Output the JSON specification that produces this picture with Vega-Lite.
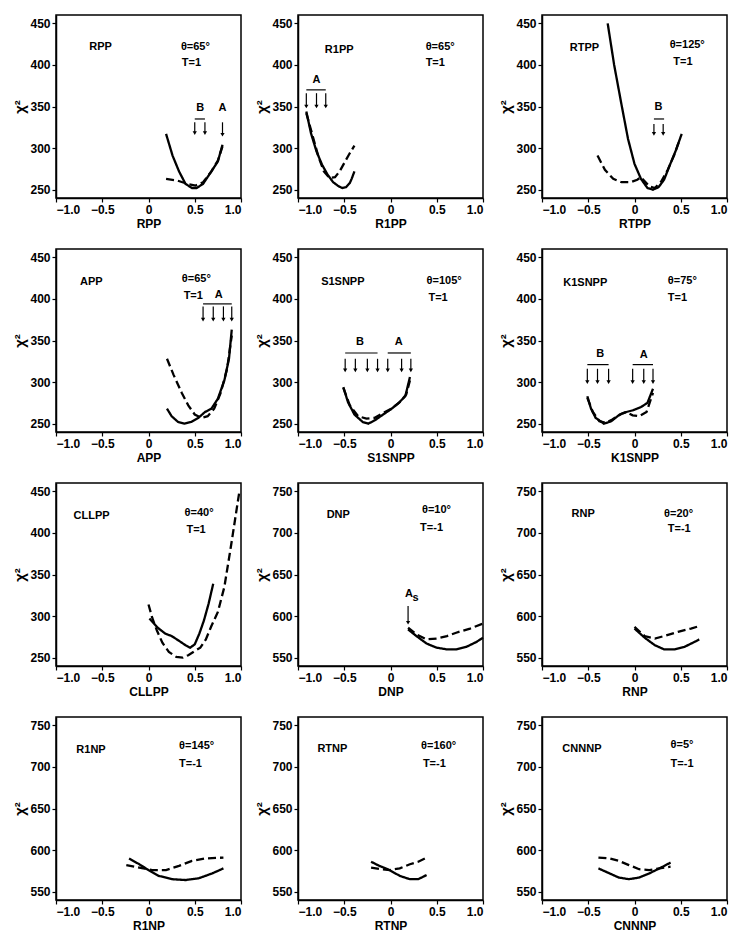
{
  "$schema": "https://vega.github.io/schema/vega-lite/v6.json",
  "padding": {"left": 12, "top": 14, "right": 2, "bottom": 2},
  "background": "white",
  "data": {"values": [
    {"p":"RPP","k":"s","x":0.19,"y":317},{"p":"RPP","k":"s","x":0.26,"y":291},{"p":"RPP","k":"s","x":0.33,"y":272},{"p":"RPP","k":"s","x":0.40,"y":257},{"p":"RPP","k":"s","x":0.47,"y":252},{"p":"RPP","k":"s","x":0.52,"y":252},{"p":"RPP","k":"s","x":0.59,"y":257},{"p":"RPP","k":"s","x":0.68,"y":272},{"p":"RPP","k":"s","x":0.75,"y":284},{"p":"RPP","k":"s","x":0.80,"y":304},
    {"p":"RPP","k":"d","x":0.19,"y":263},{"p":"RPP","k":"d","x":0.31,"y":261},{"p":"RPP","k":"d","x":0.42,"y":257},{"p":"RPP","k":"d","x":0.51,"y":255},{"p":"RPP","k":"d","x":0.59,"y":259},{"p":"RPP","k":"d","x":0.68,"y":272},{"p":"RPP","k":"d","x":0.75,"y":285},{"p":"RPP","k":"d","x":0.80,"y":302},
    {"p":"RPP","k":"t","x":-0.64,"y":421,"t":"RPP"},{"p":"RPP","k":"t","x":0.35,"y":422,"t":"θ=65°"},{"p":"RPP","k":"t","x":0.36,"y":402,"t":"T=1"},
    {"p":"RPP","k":"c","x":0.56,"y":342,"t":"B"},{"p":"RPP","k":"c","x":0.80,"y":342,"t":"A"},
    {"p":"RPP","k":"b","x":0.50,"x2":0.61,"y":335},
    {"p":"RPP","k":"a","x":0.50,"y":331,"y2":318},{"p":"RPP","k":"a","x":0.61,"y":331,"y2":318},{"p":"RPP","k":"a","x":0.80,"y":331,"y2":316},

    {"p":"R1PP","k":"s","x":-0.91,"y":344},{"p":"R1PP","k":"s","x":-0.86,"y":318},{"p":"R1PP","k":"s","x":-0.80,"y":296},{"p":"R1PP","k":"s","x":-0.74,"y":280},{"p":"R1PP","k":"s","x":-0.68,"y":268},{"p":"R1PP","k":"s","x":-0.62,"y":259},{"p":"R1PP","k":"s","x":-0.56,"y":254},{"p":"R1PP","k":"s","x":-0.52,"y":252},{"p":"R1PP","k":"s","x":-0.48,"y":253},{"p":"R1PP","k":"s","x":-0.44,"y":258},{"p":"R1PP","k":"s","x":-0.42,"y":263},{"p":"R1PP","k":"s","x":-0.39,"y":272},
    {"p":"R1PP","k":"d","x":-0.91,"y":342},{"p":"R1PP","k":"d","x":-0.85,"y":318},{"p":"R1PP","k":"d","x":-0.78,"y":290},{"p":"R1PP","k":"d","x":-0.72,"y":272},{"p":"R1PP","k":"d","x":-0.66,"y":264},{"p":"R1PP","k":"d","x":-0.60,"y":265},{"p":"R1PP","k":"d","x":-0.55,"y":272},{"p":"R1PP","k":"d","x":-0.50,"y":282},{"p":"R1PP","k":"d","x":-0.45,"y":292},{"p":"R1PP","k":"d","x":-0.39,"y":303},
    {"p":"R1PP","k":"t","x":-0.71,"y":418,"t":"R1PP"},{"p":"R1PP","k":"t","x":0.38,"y":422,"t":"θ=65°"},{"p":"R1PP","k":"t","x":0.38,"y":402,"t":"T=1"},
    {"p":"R1PP","k":"c","x":-0.80,"y":376,"t":"A"},
    {"p":"R1PP","k":"b","x":-0.91,"x2":-0.70,"y":370},
    {"p":"R1PP","k":"a","x":-0.91,"y":366,"y2":350},{"p":"R1PP","k":"a","x":-0.80,"y":366,"y2":350},{"p":"R1PP","k":"a","x":-0.70,"y":366,"y2":350},

    {"p":"RTPP","k":"s","x":-0.29,"y":450},{"p":"RTPP","k":"s","x":-0.22,"y":400},{"p":"RTPP","k":"s","x":-0.14,"y":352},{"p":"RTPP","k":"s","x":-0.07,"y":311},{"p":"RTPP","k":"s","x":0.0,"y":281},{"p":"RTPP","k":"s","x":0.07,"y":263},{"p":"RTPP","k":"s","x":0.14,"y":252},{"p":"RTPP","k":"s","x":0.20,"y":250},{"p":"RTPP","k":"s","x":0.26,"y":253},{"p":"RTPP","k":"s","x":0.32,"y":262},{"p":"RTPP","k":"s","x":0.38,"y":279},{"p":"RTPP","k":"s","x":0.45,"y":298},{"p":"RTPP","k":"s","x":0.51,"y":317},
    {"p":"RTPP","k":"d","x":-0.40,"y":291},{"p":"RTPP","k":"d","x":-0.32,"y":274},{"p":"RTPP","k":"d","x":-0.23,"y":263},{"p":"RTPP","k":"d","x":-0.14,"y":259},{"p":"RTPP","k":"d","x":-0.04,"y":259},{"p":"RTPP","k":"d","x":0.03,"y":262},{"p":"RTPP","k":"d","x":0.07,"y":265},{"p":"RTPP","k":"d","x":0.11,"y":260},{"p":"RTPP","k":"d","x":0.16,"y":254},{"p":"RTPP","k":"d","x":0.22,"y":252},{"p":"RTPP","k":"d","x":0.29,"y":260},{"p":"RTPP","k":"d","x":0.36,"y":274},{"p":"RTPP","k":"d","x":0.43,"y":292},{"p":"RTPP","k":"d","x":0.49,"y":311},
    {"p":"RTPP","k":"t","x":-0.70,"y":420,"t":"RTPP"},{"p":"RTPP","k":"t","x":0.38,"y":424,"t":"θ=125°"},{"p":"RTPP","k":"t","x":0.42,"y":404,"t":"T=1"},
    {"p":"RTPP","k":"c","x":0.26,"y":343,"t":"B"},
    {"p":"RTPP","k":"b","x":0.21,"x2":0.32,"y":335},
    {"p":"RTPP","k":"a","x":0.21,"y":329,"y2":317},{"p":"RTPP","k":"a","x":0.31,"y":329,"y2":317},

    {"p":"APP","k":"s","x":0.20,"y":268},{"p":"APP","k":"s","x":0.25,"y":259},{"p":"APP","k":"s","x":0.32,"y":252},{"p":"APP","k":"s","x":0.39,"y":250},{"p":"APP","k":"s","x":0.46,"y":252},{"p":"APP","k":"s","x":0.54,"y":257},{"p":"APP","k":"s","x":0.61,"y":264},{"p":"APP","k":"s","x":0.68,"y":268},{"p":"APP","k":"s","x":0.75,"y":280},{"p":"APP","k":"s","x":0.82,"y":302},{"p":"APP","k":"s","x":0.87,"y":328},{"p":"APP","k":"s","x":0.90,"y":363},
    {"p":"APP","k":"d","x":0.20,"y":328},{"p":"APP","k":"d","x":0.27,"y":309},{"p":"APP","k":"d","x":0.36,"y":287},{"p":"APP","k":"d","x":0.43,"y":272},{"p":"APP","k":"d","x":0.50,"y":261},{"p":"APP","k":"d","x":0.57,"y":257},{"p":"APP","k":"d","x":0.64,"y":259},{"p":"APP","k":"d","x":0.71,"y":268},{"p":"APP","k":"d","x":0.78,"y":287},{"p":"APP","k":"d","x":0.85,"y":316},{"p":"APP","k":"d","x":0.90,"y":356},
    {"p":"APP","k":"t","x":-0.74,"y":420,"t":"APP"},{"p":"APP","k":"t","x":0.36,"y":424,"t":"θ=65°"},{"p":"APP","k":"t","x":0.38,"y":404,"t":"T=1"},
    {"p":"APP","k":"c","x":0.76,"y":399,"t":"A"},
    {"p":"APP","k":"b","x":0.59,"x2":0.90,"y":394},
    {"p":"APP","k":"a","x":0.59,"y":391,"y2":375},{"p":"APP","k":"a","x":0.70,"y":391,"y2":375},{"p":"APP","k":"a","x":0.81,"y":391,"y2":375},{"p":"APP","k":"a","x":0.90,"y":391,"y2":375},

    {"p":"S1SNPP","k":"s","x":-0.51,"y":294},{"p":"S1SNPP","k":"s","x":-0.46,"y":276},{"p":"S1SNPP","k":"s","x":-0.39,"y":261},{"p":"S1SNPP","k":"s","x":-0.30,"y":252},{"p":"S1SNPP","k":"s","x":-0.24,"y":250},{"p":"S1SNPP","k":"s","x":-0.17,"y":254},{"p":"S1SNPP","k":"s","x":-0.08,"y":261},{"p":"S1SNPP","k":"s","x":0.0,"y":267},{"p":"S1SNPP","k":"s","x":0.08,"y":274},{"p":"S1SNPP","k":"s","x":0.16,"y":283},{"p":"S1SNPP","k":"s","x":0.21,"y":306},
    {"p":"S1SNPP","k":"d","x":-0.51,"y":293},{"p":"S1SNPP","k":"d","x":-0.44,"y":272},{"p":"S1SNPP","k":"d","x":-0.35,"y":259},{"p":"S1SNPP","k":"d","x":-0.26,"y":256},{"p":"S1SNPP","k":"d","x":-0.17,"y":257},{"p":"S1SNPP","k":"d","x":-0.08,"y":263},{"p":"S1SNPP","k":"d","x":0.01,"y":268},{"p":"S1SNPP","k":"d","x":0.10,"y":276},{"p":"S1SNPP","k":"d","x":0.17,"y":285},{"p":"S1SNPP","k":"d","x":0.21,"y":302},
    {"p":"S1SNPP","k":"t","x":-0.75,"y":420,"t":"S1SNPP"},{"p":"S1SNPP","k":"t","x":0.39,"y":422,"t":"θ=105°"},{"p":"S1SNPP","k":"t","x":0.41,"y":401,"t":"T=1"},
    {"p":"S1SNPP","k":"c","x":-0.33,"y":342,"t":"B"},{"p":"S1SNPP","k":"c","x":0.09,"y":342,"t":"A"},
    {"p":"S1SNPP","k":"b","x":-0.49,"x2":-0.14,"y":335},{"p":"S1SNPP","k":"b","x":-0.03,"x2":0.22,"y":335},
    {"p":"S1SNPP","k":"a","x":-0.49,"y":328,"y2":314},{"p":"S1SNPP","k":"a","x":-0.38,"y":328,"y2":314},{"p":"S1SNPP","k":"a","x":-0.25,"y":328,"y2":314},{"p":"S1SNPP","k":"a","x":-0.14,"y":328,"y2":314},{"p":"S1SNPP","k":"a","x":-0.03,"y":328,"y2":314},{"p":"S1SNPP","k":"a","x":0.12,"y":328,"y2":314},{"p":"S1SNPP","k":"a","x":0.22,"y":328,"y2":314},

    {"p":"K1SNPP","k":"s","x":-0.51,"y":283},{"p":"K1SNPP","k":"s","x":-0.47,"y":268},{"p":"K1SNPP","k":"s","x":-0.42,"y":257},{"p":"K1SNPP","k":"s","x":-0.33,"y":250},{"p":"K1SNPP","k":"s","x":-0.25,"y":253},{"p":"K1SNPP","k":"s","x":-0.16,"y":261},{"p":"K1SNPP","k":"s","x":-0.09,"y":264},{"p":"K1SNPP","k":"s","x":-0.02,"y":266},{"p":"K1SNPP","k":"s","x":0.07,"y":270},{"p":"K1SNPP","k":"s","x":0.14,"y":275},{"p":"K1SNPP","k":"s","x":0.20,"y":292},
    {"p":"K1SNPP","k":"d","x":-0.51,"y":281},{"p":"K1SNPP","k":"d","x":-0.45,"y":264},{"p":"K1SNPP","k":"d","x":-0.38,"y":253},{"p":"K1SNPP","k":"d","x":-0.31,"y":251},{"p":"K1SNPP","k":"d","x":-0.24,"y":255},{"p":"K1SNPP","k":"d","x":-0.14,"y":262},{"p":"K1SNPP","k":"d","x":-0.09,"y":264},{"p":"K1SNPP","k":"d","x":-0.02,"y":260},{"p":"K1SNPP","k":"d","x":0.05,"y":259},{"p":"K1SNPP","k":"d","x":0.13,"y":264},{"p":"K1SNPP","k":"d","x":0.20,"y":287},
    {"p":"K1SNPP","k":"t","x":-0.77,"y":419,"t":"K1SNPP"},{"p":"K1SNPP","k":"t","x":0.36,"y":421,"t":"θ=75°"},{"p":"K1SNPP","k":"t","x":0.36,"y":401,"t":"T=1"},
    {"p":"K1SNPP","k":"c","x":-0.37,"y":328,"t":"B"},{"p":"K1SNPP","k":"c","x":0.10,"y":327,"t":"A"},
    {"p":"K1SNPP","k":"b","x":-0.51,"x2":-0.28,"y":321},{"p":"K1SNPP","k":"b","x":-0.02,"x2":0.20,"y":321},
    {"p":"K1SNPP","k":"a","x":-0.51,"y":316,"y2":300},{"p":"K1SNPP","k":"a","x":-0.40,"y":316,"y2":300},{"p":"K1SNPP","k":"a","x":-0.28,"y":316,"y2":300},{"p":"K1SNPP","k":"a","x":-0.02,"y":316,"y2":300},{"p":"K1SNPP","k":"a","x":0.10,"y":316,"y2":300},{"p":"K1SNPP","k":"a","x":0.20,"y":316,"y2":300},

    {"p":"CLLPP","k":"s","x":0.01,"y":297},{"p":"CLLPP","k":"s","x":0.10,"y":286},{"p":"CLLPP","k":"s","x":0.18,"y":279},{"p":"CLLPP","k":"s","x":0.25,"y":276},{"p":"CLLPP","k":"s","x":0.32,"y":271},{"p":"CLLPP","k":"s","x":0.40,"y":265},{"p":"CLLPP","k":"s","x":0.45,"y":262},{"p":"CLLPP","k":"s","x":0.50,"y":266},{"p":"CLLPP","k":"s","x":0.55,"y":279},{"p":"CLLPP","k":"s","x":0.60,"y":295},{"p":"CLLPP","k":"s","x":0.65,"y":315},{"p":"CLLPP","k":"s","x":0.70,"y":339},
    {"p":"CLLPP","k":"d","x":0.0,"y":314},{"p":"CLLPP","k":"d","x":0.04,"y":298},{"p":"CLLPP","k":"d","x":0.09,"y":283},{"p":"CLLPP","k":"d","x":0.15,"y":268},{"p":"CLLPP","k":"d","x":0.22,"y":257},{"p":"CLLPP","k":"d","x":0.30,"y":251},{"p":"CLLPP","k":"d","x":0.37,"y":250},{"p":"CLLPP","k":"d","x":0.43,"y":253},{"p":"CLLPP","k":"d","x":0.50,"y":258},{"p":"CLLPP","k":"d","x":0.56,"y":262},{"p":"CLLPP","k":"d","x":0.62,"y":272},{"p":"CLLPP","k":"d","x":0.68,"y":288},{"p":"CLLPP","k":"d","x":0.75,"y":305},{"p":"CLLPP","k":"d","x":0.82,"y":335},{"p":"CLLPP","k":"d","x":0.89,"y":383},{"p":"CLLPP","k":"d","x":0.98,"y":448},
    {"p":"CLLPP","k":"t","x":-0.81,"y":420,"t":"CLLPP"},{"p":"CLLPP","k":"t","x":0.39,"y":424,"t":"θ=40°"},{"p":"CLLPP","k":"t","x":0.41,"y":403,"t":"T=1"},

    {"p":"DNP","k":"s","x":0.19,"y":584},{"p":"DNP","k":"s","x":0.28,"y":576},{"p":"DNP","k":"s","x":0.39,"y":567},{"p":"DNP","k":"s","x":0.50,"y":562},{"p":"DNP","k":"s","x":0.61,"y":560},{"p":"DNP","k":"s","x":0.71,"y":560},{"p":"DNP","k":"s","x":0.82,"y":563},{"p":"DNP","k":"s","x":0.93,"y":569},{"p":"DNP","k":"s","x":1.0,"y":574},
    {"p":"DNP","k":"d","x":0.19,"y":586},{"p":"DNP","k":"d","x":0.28,"y":578},{"p":"DNP","k":"d","x":0.39,"y":572},{"p":"DNP","k":"d","x":0.50,"y":573},{"p":"DNP","k":"d","x":0.61,"y":576},{"p":"DNP","k":"d","x":0.71,"y":580},{"p":"DNP","k":"d","x":0.86,"y":585},{"p":"DNP","k":"d","x":1.0,"y":591},
    {"p":"DNP","k":"t","x":-0.69,"y":722,"t":"DNP"},{"p":"DNP","k":"t","x":0.34,"y":727,"t":"θ=10°"},{"p":"DNP","k":"t","x":0.32,"y":706,"t":"T=-1"},
    {"p":"DNP","k":"c","x":0.20,"y":620,"t":"A"},{"p":"DNP","k":"c","x":0.27,"y":616,"t":"s"},
    {"p":"DNP","k":"a","x":0.19,"y":612,"y2":592},

    {"p":"RNP","k":"s","x":0.0,"y":585},{"p":"RNP","k":"s","x":0.11,"y":574},{"p":"RNP","k":"s","x":0.22,"y":565},{"p":"RNP","k":"s","x":0.32,"y":560},{"p":"RNP","k":"s","x":0.43,"y":560},{"p":"RNP","k":"s","x":0.54,"y":563},{"p":"RNP","k":"s","x":0.65,"y":569},{"p":"RNP","k":"s","x":0.70,"y":572},
    {"p":"RNP","k":"d","x":0.0,"y":587},{"p":"RNP","k":"d","x":0.11,"y":576},{"p":"RNP","k":"d","x":0.22,"y":573},{"p":"RNP","k":"d","x":0.32,"y":576},{"p":"RNP","k":"d","x":0.47,"y":581},{"p":"RNP","k":"d","x":0.61,"y":585},{"p":"RNP","k":"d","x":0.70,"y":588},
    {"p":"RNP","k":"t","x":-0.68,"y":723,"t":"RNP"},{"p":"RNP","k":"t","x":0.32,"y":723,"t":"θ=20°"},{"p":"RNP","k":"t","x":0.36,"y":705,"t":"T=-1"},

    {"p":"R1NP","k":"s","x":-0.21,"y":590},{"p":"R1NP","k":"s","x":-0.10,"y":583},{"p":"R1NP","k":"s","x":0.0,"y":576},{"p":"R1NP","k":"s","x":0.11,"y":569},{"p":"R1NP","k":"s","x":0.26,"y":565},{"p":"R1NP","k":"s","x":0.40,"y":564},{"p":"R1NP","k":"s","x":0.54,"y":566},{"p":"R1NP","k":"s","x":0.69,"y":572},{"p":"R1NP","k":"s","x":0.81,"y":578},
    {"p":"R1NP","k":"d","x":-0.24,"y":582},{"p":"R1NP","k":"d","x":-0.10,"y":579},{"p":"R1NP","k":"d","x":0.04,"y":576},{"p":"R1NP","k":"d","x":0.19,"y":576},{"p":"R1NP","k":"d","x":0.33,"y":581},{"p":"R1NP","k":"d","x":0.47,"y":587},{"p":"R1NP","k":"d","x":0.62,"y":590},{"p":"R1NP","k":"d","x":0.81,"y":591},
    {"p":"R1NP","k":"t","x":-0.78,"y":720,"t":"R1NP"},{"p":"R1NP","k":"t","x":0.33,"y":725,"t":"θ=145°"},{"p":"R1NP","k":"t","x":0.33,"y":704,"t":"T=-1"},

    {"p":"RTNP","k":"s","x":-0.21,"y":586},{"p":"RTNP","k":"s","x":-0.12,"y":581},{"p":"RTNP","k":"s","x":-0.01,"y":576},{"p":"RTNP","k":"s","x":0.10,"y":569},{"p":"RTNP","k":"s","x":0.21,"y":565},{"p":"RTNP","k":"s","x":0.30,"y":565},{"p":"RTNP","k":"s","x":0.39,"y":570},
    {"p":"RTNP","k":"d","x":-0.21,"y":579},{"p":"RTNP","k":"d","x":-0.10,"y":577},{"p":"RTNP","k":"d","x":-0.01,"y":576},{"p":"RTNP","k":"d","x":0.10,"y":578},{"p":"RTNP","k":"d","x":0.21,"y":583},{"p":"RTNP","k":"d","x":0.30,"y":586},{"p":"RTNP","k":"d","x":0.39,"y":591},
    {"p":"RTNP","k":"t","x":-0.79,"y":722,"t":"RTNP"},{"p":"RTNP","k":"t","x":0.33,"y":725,"t":"θ=160°"},{"p":"RTNP","k":"t","x":0.35,"y":703,"t":"T=-1"},

    {"p":"CNNNP","k":"s","x":-0.39,"y":578},{"p":"CNNNP","k":"s","x":-0.27,"y":572},{"p":"CNNNP","k":"s","x":-0.17,"y":567},{"p":"CNNNP","k":"s","x":-0.06,"y":565},{"p":"CNNNP","k":"s","x":0.05,"y":567},{"p":"CNNNP","k":"s","x":0.16,"y":572},{"p":"CNNNP","k":"s","x":0.27,"y":578},{"p":"CNNNP","k":"s","x":0.39,"y":585},
    {"p":"CNNNP","k":"d","x":-0.39,"y":591},{"p":"CNNNP","k":"d","x":-0.27,"y":590},{"p":"CNNNP","k":"d","x":-0.17,"y":587},{"p":"CNNNP","k":"d","x":-0.06,"y":582},{"p":"CNNNP","k":"d","x":0.05,"y":577},{"p":"CNNNP","k":"d","x":0.16,"y":576},{"p":"CNNNP","k":"d","x":0.27,"y":578},{"p":"CNNNP","k":"d","x":0.39,"y":580},
    {"p":"CNNNP","k":"t","x":-0.78,"y":722,"t":"CNNNP"},{"p":"CNNNP","k":"t","x":0.39,"y":726,"t":"θ=5°"},{"p":"CNNNP","k":"t","x":0.39,"y":704,"t":"T=-1"}
  ]},
  "columns": 3,
  "spacing": {"row": 18, "column": 9},
  "resolve": {"scale": {"x": "independent", "y": "independent"}},
  "concat": [
    {"width":185,"height":183,"transform":[{"filter":"datum.p=='RPP'"}],"layer":[
      {"transform":[{"filter":"datum.k=='s'||datum.k=='d'"}],"mark":{"type":"line","color":"black","strokeWidth":2.3},"encoding":{"x":{"field":"x","type":"quantitative","scale":{"domain":[-1,1]},"axis":{"values":[-1,-0.5,0,0.5,1],"title":"RPP","labelExpr":"datum.value == 0 ? '0' : format(datum.value, '.1f')"}},"y":{"field":"y","type":"quantitative","scale":{"domain":[250,450]},"axis":{"values":[250,300,350,400,450],"title":"χ²"}},"strokeDash":{"field":"k","type":"nominal","scale":{"domain":["s","d"],"range":[[1,0],[8,4]]},"legend":null}}},
      {"transform":[{"filter":"datum.k=='t'"}],"mark":{"type":"text","align":"left","baseline":"middle","fontWeight":"bold","fontSize":11,"font":"Liberation Sans"},"encoding":{"x":{"field":"x","type":"quantitative"},"y":{"field":"y","type":"quantitative"},"text":{"field":"t"}}},
      {"transform":[{"filter":"datum.k=='c'"}],"mark":{"type":"text","align":"center","baseline":"bottom","fontWeight":"bold","fontSize":11,"font":"Liberation Sans"},"encoding":{"x":{"field":"x","type":"quantitative"},"y":{"field":"y","type":"quantitative"},"text":{"field":"t"}}},
      {"transform":[{"filter":"datum.k=='b'"}],"mark":{"type":"rule","color":"black","strokeWidth":1.2},"encoding":{"x":{"field":"x","type":"quantitative"},"x2":{"field":"x2"},"y":{"field":"y","type":"quantitative"}}},
      {"transform":[{"filter":"datum.k=='a'"}],"mark":{"type":"rule","color":"black","strokeWidth":1.2},"encoding":{"x":{"field":"x","type":"quantitative"},"y":{"field":"y","type":"quantitative"},"y2":{"field":"y2"}}},
      {"transform":[{"filter":"datum.k=='a'"}],"mark":{"type":"point","shape":"triangle-down","filled":true,"color":"black","size":18,"opacity":1},"encoding":{"x":{"field":"x","type":"quantitative"},"y":{"field":"y2","type":"quantitative"}}}
    ]},
    {"width":185,"height":183,"transform":[{"filter":"datum.p=='R1PP'"}],"layer":[
      {"transform":[{"filter":"datum.k=='s'||datum.k=='d'"}],"mark":{"type":"line","color":"black","strokeWidth":2.3},"encoding":{"x":{"field":"x","type":"quantitative","scale":{"domain":[-1,1]},"axis":{"values":[-1,-0.5,0,0.5,1],"title":"R1PP","labelExpr":"datum.value == 0 ? '0' : format(datum.value, '.1f')"}},"y":{"field":"y","type":"quantitative","scale":{"domain":[250,450]},"axis":{"values":[250,300,350,400,450],"title":"χ²"}},"strokeDash":{"field":"k","type":"nominal","scale":{"domain":["s","d"],"range":[[1,0],[8,4]]},"legend":null}}},
      {"transform":[{"filter":"datum.k=='t'"}],"mark":{"type":"text","align":"left","baseline":"middle","fontWeight":"bold","fontSize":11,"font":"Liberation Sans"},"encoding":{"x":{"field":"x","type":"quantitative"},"y":{"field":"y","type":"quantitative"},"text":{"field":"t"}}},
      {"transform":[{"filter":"datum.k=='c'"}],"mark":{"type":"text","align":"center","baseline":"bottom","fontWeight":"bold","fontSize":11,"font":"Liberation Sans"},"encoding":{"x":{"field":"x","type":"quantitative"},"y":{"field":"y","type":"quantitative"},"text":{"field":"t"}}},
      {"transform":[{"filter":"datum.k=='b'"}],"mark":{"type":"rule","color":"black","strokeWidth":1.2},"encoding":{"x":{"field":"x","type":"quantitative"},"x2":{"field":"x2"},"y":{"field":"y","type":"quantitative"}}},
      {"transform":[{"filter":"datum.k=='a'"}],"mark":{"type":"rule","color":"black","strokeWidth":1.2},"encoding":{"x":{"field":"x","type":"quantitative"},"y":{"field":"y","type":"quantitative"},"y2":{"field":"y2"}}},
      {"transform":[{"filter":"datum.k=='a'"}],"mark":{"type":"point","shape":"triangle-down","filled":true,"color":"black","size":18,"opacity":1},"encoding":{"x":{"field":"x","type":"quantitative"},"y":{"field":"y2","type":"quantitative"}}}
    ]},
    {"width":185,"height":183,"transform":[{"filter":"datum.p=='RTPP'"}],"layer":[
      {"transform":[{"filter":"datum.k=='s'||datum.k=='d'"}],"mark":{"type":"line","color":"black","strokeWidth":2.3},"encoding":{"x":{"field":"x","type":"quantitative","scale":{"domain":[-1,1]},"axis":{"values":[-1,-0.5,0,0.5,1],"title":"RTPP","labelExpr":"datum.value == 0 ? '0' : format(datum.value, '.1f')"}},"y":{"field":"y","type":"quantitative","scale":{"domain":[250,450]},"axis":{"values":[250,300,350,400,450],"title":"χ²"}},"strokeDash":{"field":"k","type":"nominal","scale":{"domain":["s","d"],"range":[[1,0],[8,4]]},"legend":null}}},
      {"transform":[{"filter":"datum.k=='t'"}],"mark":{"type":"text","align":"left","baseline":"middle","fontWeight":"bold","fontSize":11,"font":"Liberation Sans"},"encoding":{"x":{"field":"x","type":"quantitative"},"y":{"field":"y","type":"quantitative"},"text":{"field":"t"}}},
      {"transform":[{"filter":"datum.k=='c'"}],"mark":{"type":"text","align":"center","baseline":"bottom","fontWeight":"bold","fontSize":11,"font":"Liberation Sans"},"encoding":{"x":{"field":"x","type":"quantitative"},"y":{"field":"y","type":"quantitative"},"text":{"field":"t"}}},
      {"transform":[{"filter":"datum.k=='b'"}],"mark":{"type":"rule","color":"black","strokeWidth":1.2},"encoding":{"x":{"field":"x","type":"quantitative"},"x2":{"field":"x2"},"y":{"field":"y","type":"quantitative"}}},
      {"transform":[{"filter":"datum.k=='a'"}],"mark":{"type":"rule","color":"black","strokeWidth":1.2},"encoding":{"x":{"field":"x","type":"quantitative"},"y":{"field":"y","type":"quantitative"},"y2":{"field":"y2"}}},
      {"transform":[{"filter":"datum.k=='a'"}],"mark":{"type":"point","shape":"triangle-down","filled":true,"color":"black","size":18,"opacity":1},"encoding":{"x":{"field":"x","type":"quantitative"},"y":{"field":"y2","type":"quantitative"}}}
    ]},
    {"width":185,"height":183,"transform":[{"filter":"datum.p=='APP'"}],"layer":[
      {"transform":[{"filter":"datum.k=='s'||datum.k=='d'"}],"mark":{"type":"line","color":"black","strokeWidth":2.3},"encoding":{"x":{"field":"x","type":"quantitative","scale":{"domain":[-1,1]},"axis":{"values":[-1,-0.5,0,0.5,1],"title":"APP","labelExpr":"datum.value == 0 ? '0' : format(datum.value, '.1f')"}},"y":{"field":"y","type":"quantitative","scale":{"domain":[250,450]},"axis":{"values":[250,300,350,400,450],"title":"χ²"}},"strokeDash":{"field":"k","type":"nominal","scale":{"domain":["s","d"],"range":[[1,0],[8,4]]},"legend":null}}},
      {"transform":[{"filter":"datum.k=='t'"}],"mark":{"type":"text","align":"left","baseline":"middle","fontWeight":"bold","fontSize":11,"font":"Liberation Sans"},"encoding":{"x":{"field":"x","type":"quantitative"},"y":{"field":"y","type":"quantitative"},"text":{"field":"t"}}},
      {"transform":[{"filter":"datum.k=='c'"}],"mark":{"type":"text","align":"center","baseline":"bottom","fontWeight":"bold","fontSize":11,"font":"Liberation Sans"},"encoding":{"x":{"field":"x","type":"quantitative"},"y":{"field":"y","type":"quantitative"},"text":{"field":"t"}}},
      {"transform":[{"filter":"datum.k=='b'"}],"mark":{"type":"rule","color":"black","strokeWidth":1.2},"encoding":{"x":{"field":"x","type":"quantitative"},"x2":{"field":"x2"},"y":{"field":"y","type":"quantitative"}}},
      {"transform":[{"filter":"datum.k=='a'"}],"mark":{"type":"rule","color":"black","strokeWidth":1.2},"encoding":{"x":{"field":"x","type":"quantitative"},"y":{"field":"y","type":"quantitative"},"y2":{"field":"y2"}}},
      {"transform":[{"filter":"datum.k=='a'"}],"mark":{"type":"point","shape":"triangle-down","filled":true,"color":"black","size":18,"opacity":1},"encoding":{"x":{"field":"x","type":"quantitative"},"y":{"field":"y2","type":"quantitative"}}}
    ]},
    {"width":185,"height":183,"transform":[{"filter":"datum.p=='S1SNPP'"}],"layer":[
      {"transform":[{"filter":"datum.k=='s'||datum.k=='d'"}],"mark":{"type":"line","color":"black","strokeWidth":2.3},"encoding":{"x":{"field":"x","type":"quantitative","scale":{"domain":[-1,1]},"axis":{"values":[-1,-0.5,0,0.5,1],"title":"S1SNPP","labelExpr":"datum.value == 0 ? '0' : format(datum.value, '.1f')"}},"y":{"field":"y","type":"quantitative","scale":{"domain":[250,450]},"axis":{"values":[250,300,350,400,450],"title":"χ²"}},"strokeDash":{"field":"k","type":"nominal","scale":{"domain":["s","d"],"range":[[1,0],[8,4]]},"legend":null}}},
      {"transform":[{"filter":"datum.k=='t'"}],"mark":{"type":"text","align":"left","baseline":"middle","fontWeight":"bold","fontSize":11,"font":"Liberation Sans"},"encoding":{"x":{"field":"x","type":"quantitative"},"y":{"field":"y","type":"quantitative"},"text":{"field":"t"}}},
      {"transform":[{"filter":"datum.k=='c'"}],"mark":{"type":"text","align":"center","baseline":"bottom","fontWeight":"bold","fontSize":11,"font":"Liberation Sans"},"encoding":{"x":{"field":"x","type":"quantitative"},"y":{"field":"y","type":"quantitative"},"text":{"field":"t"}}},
      {"transform":[{"filter":"datum.k=='b'"}],"mark":{"type":"rule","color":"black","strokeWidth":1.2},"encoding":{"x":{"field":"x","type":"quantitative"},"x2":{"field":"x2"},"y":{"field":"y","type":"quantitative"}}},
      {"transform":[{"filter":"datum.k=='a'"}],"mark":{"type":"rule","color":"black","strokeWidth":1.2},"encoding":{"x":{"field":"x","type":"quantitative"},"y":{"field":"y","type":"quantitative"},"y2":{"field":"y2"}}},
      {"transform":[{"filter":"datum.k=='a'"}],"mark":{"type":"point","shape":"triangle-down","filled":true,"color":"black","size":18,"opacity":1},"encoding":{"x":{"field":"x","type":"quantitative"},"y":{"field":"y2","type":"quantitative"}}}
    ]},
    {"width":185,"height":183,"transform":[{"filter":"datum.p=='K1SNPP'"}],"layer":[
      {"transform":[{"filter":"datum.k=='s'||datum.k=='d'"}],"mark":{"type":"line","color":"black","strokeWidth":2.3},"encoding":{"x":{"field":"x","type":"quantitative","scale":{"domain":[-1,1]},"axis":{"values":[-1,-0.5,0,0.5,1],"title":"K1SNPP","labelExpr":"datum.value == 0 ? '0' : format(datum.value, '.1f')"}},"y":{"field":"y","type":"quantitative","scale":{"domain":[250,450]},"axis":{"values":[250,300,350,400,450],"title":"χ²"}},"strokeDash":{"field":"k","type":"nominal","scale":{"domain":["s","d"],"range":[[1,0],[8,4]]},"legend":null}}},
      {"transform":[{"filter":"datum.k=='t'"}],"mark":{"type":"text","align":"left","baseline":"middle","fontWeight":"bold","fontSize":11,"font":"Liberation Sans"},"encoding":{"x":{"field":"x","type":"quantitative"},"y":{"field":"y","type":"quantitative"},"text":{"field":"t"}}},
      {"transform":[{"filter":"datum.k=='c'"}],"mark":{"type":"text","align":"center","baseline":"bottom","fontWeight":"bold","fontSize":11,"font":"Liberation Sans"},"encoding":{"x":{"field":"x","type":"quantitative"},"y":{"field":"y","type":"quantitative"},"text":{"field":"t"}}},
      {"transform":[{"filter":"datum.k=='b'"}],"mark":{"type":"rule","color":"black","strokeWidth":1.2},"encoding":{"x":{"field":"x","type":"quantitative"},"x2":{"field":"x2"},"y":{"field":"y","type":"quantitative"}}},
      {"transform":[{"filter":"datum.k=='a'"}],"mark":{"type":"rule","color":"black","strokeWidth":1.2},"encoding":{"x":{"field":"x","type":"quantitative"},"y":{"field":"y","type":"quantitative"},"y2":{"field":"y2"}}},
      {"transform":[{"filter":"datum.k=='a'"}],"mark":{"type":"point","shape":"triangle-down","filled":true,"color":"black","size":18,"opacity":1},"encoding":{"x":{"field":"x","type":"quantitative"},"y":{"field":"y2","type":"quantitative"}}}
    ]},
    {"width":185,"height":183,"transform":[{"filter":"datum.p=='CLLPP'"}],"layer":[
      {"transform":[{"filter":"datum.k=='s'||datum.k=='d'"}],"mark":{"type":"line","color":"black","strokeWidth":2.3},"encoding":{"x":{"field":"x","type":"quantitative","scale":{"domain":[-1,1]},"axis":{"values":[-1,-0.5,0,0.5,1],"title":"CLLPP","labelExpr":"datum.value == 0 ? '0' : format(datum.value, '.1f')"}},"y":{"field":"y","type":"quantitative","scale":{"domain":[250,450]},"axis":{"values":[250,300,350,400,450],"title":"χ²"}},"strokeDash":{"field":"k","type":"nominal","scale":{"domain":["s","d"],"range":[[1,0],[8,4]]},"legend":null}}},
      {"transform":[{"filter":"datum.k=='t'"}],"mark":{"type":"text","align":"left","baseline":"middle","fontWeight":"bold","fontSize":11,"font":"Liberation Sans"},"encoding":{"x":{"field":"x","type":"quantitative"},"y":{"field":"y","type":"quantitative"},"text":{"field":"t"}}}
    ]},
    {"width":185,"height":183,"transform":[{"filter":"datum.p=='DNP'"}],"layer":[
      {"transform":[{"filter":"datum.k=='s'||datum.k=='d'"}],"mark":{"type":"line","color":"black","strokeWidth":2.3},"encoding":{"x":{"field":"x","type":"quantitative","scale":{"domain":[-1,1]},"axis":{"values":[-1,-0.5,0,0.5,1],"title":"DNP","labelExpr":"datum.value == 0 ? '0' : format(datum.value, '.1f')"}},"y":{"field":"y","type":"quantitative","scale":{"domain":[550,750]},"axis":{"values":[550,600,650,700,750],"title":"χ²"}},"strokeDash":{"field":"k","type":"nominal","scale":{"domain":["s","d"],"range":[[1,0],[8,4]]},"legend":null}}},
      {"transform":[{"filter":"datum.k=='t'"}],"mark":{"type":"text","align":"left","baseline":"middle","fontWeight":"bold","fontSize":11,"font":"Liberation Sans"},"encoding":{"x":{"field":"x","type":"quantitative"},"y":{"field":"y","type":"quantitative"},"text":{"field":"t"}}},
      {"transform":[{"filter":"datum.k=='c'"}],"mark":{"type":"text","align":"center","baseline":"bottom","fontWeight":"bold","fontSize":11,"font":"Liberation Sans"},"encoding":{"x":{"field":"x","type":"quantitative"},"y":{"field":"y","type":"quantitative"},"text":{"field":"t"}}},
      {"transform":[{"filter":"datum.k=='a'"}],"mark":{"type":"rule","color":"black","strokeWidth":1.2},"encoding":{"x":{"field":"x","type":"quantitative"},"y":{"field":"y","type":"quantitative"},"y2":{"field":"y2"}}},
      {"transform":[{"filter":"datum.k=='a'"}],"mark":{"type":"point","shape":"triangle-down","filled":true,"color":"black","size":18,"opacity":1},"encoding":{"x":{"field":"x","type":"quantitative"},"y":{"field":"y2","type":"quantitative"}}}
    ]},
    {"width":185,"height":183,"transform":[{"filter":"datum.p=='RNP'"}],"layer":[
      {"transform":[{"filter":"datum.k=='s'||datum.k=='d'"}],"mark":{"type":"line","color":"black","strokeWidth":2.3},"encoding":{"x":{"field":"x","type":"quantitative","scale":{"domain":[-1,1]},"axis":{"values":[-1,-0.5,0,0.5,1],"title":"RNP","labelExpr":"datum.value == 0 ? '0' : format(datum.value, '.1f')"}},"y":{"field":"y","type":"quantitative","scale":{"domain":[550,750]},"axis":{"values":[550,600,650,700,750],"title":"χ²"}},"strokeDash":{"field":"k","type":"nominal","scale":{"domain":["s","d"],"range":[[1,0],[8,4]]},"legend":null}}},
      {"transform":[{"filter":"datum.k=='t'"}],"mark":{"type":"text","align":"left","baseline":"middle","fontWeight":"bold","fontSize":11,"font":"Liberation Sans"},"encoding":{"x":{"field":"x","type":"quantitative"},"y":{"field":"y","type":"quantitative"},"text":{"field":"t"}}}
    ]},
    {"width":185,"height":183,"transform":[{"filter":"datum.p=='R1NP'"}],"layer":[
      {"transform":[{"filter":"datum.k=='s'||datum.k=='d'"}],"mark":{"type":"line","color":"black","strokeWidth":2.3},"encoding":{"x":{"field":"x","type":"quantitative","scale":{"domain":[-1,1]},"axis":{"values":[-1,-0.5,0,0.5,1],"title":"R1NP","labelExpr":"datum.value == 0 ? '0' : format(datum.value, '.1f')"}},"y":{"field":"y","type":"quantitative","scale":{"domain":[550,750]},"axis":{"values":[550,600,650,700,750],"title":"χ²"}},"strokeDash":{"field":"k","type":"nominal","scale":{"domain":["s","d"],"range":[[1,0],[8,4]]},"legend":null}}},
      {"transform":[{"filter":"datum.k=='t'"}],"mark":{"type":"text","align":"left","baseline":"middle","fontWeight":"bold","fontSize":11,"font":"Liberation Sans"},"encoding":{"x":{"field":"x","type":"quantitative"},"y":{"field":"y","type":"quantitative"},"text":{"field":"t"}}}
    ]},
    {"width":185,"height":183,"transform":[{"filter":"datum.p=='RTNP'"}],"layer":[
      {"transform":[{"filter":"datum.k=='s'||datum.k=='d'"}],"mark":{"type":"line","color":"black","strokeWidth":2.3},"encoding":{"x":{"field":"x","type":"quantitative","scale":{"domain":[-1,1]},"axis":{"values":[-1,-0.5,0,0.5,1],"title":"RTNP","labelExpr":"datum.value == 0 ? '0' : format(datum.value, '.1f')"}},"y":{"field":"y","type":"quantitative","scale":{"domain":[550,750]},"axis":{"values":[550,600,650,700,750],"title":"χ²"}},"strokeDash":{"field":"k","type":"nominal","scale":{"domain":["s","d"],"range":[[1,0],[8,4]]},"legend":null}}},
      {"transform":[{"filter":"datum.k=='t'"}],"mark":{"type":"text","align":"left","baseline":"middle","fontWeight":"bold","fontSize":11,"font":"Liberation Sans"},"encoding":{"x":{"field":"x","type":"quantitative"},"y":{"field":"y","type":"quantitative"},"text":{"field":"t"}}}
    ]},
    {"width":185,"height":183,"transform":[{"filter":"datum.p=='CNNNP'"}],"layer":[
      {"transform":[{"filter":"datum.k=='s'||datum.k=='d'"}],"mark":{"type":"line","color":"black","strokeWidth":2.3},"encoding":{"x":{"field":"x","type":"quantitative","scale":{"domain":[-1,1]},"axis":{"values":[-1,-0.5,0,0.5,1],"title":"CNNNP","labelExpr":"datum.value == 0 ? '0' : format(datum.value, '.1f')"}},"y":{"field":"y","type":"quantitative","scale":{"domain":[550,750]},"axis":{"values":[550,600,650,700,750],"title":"χ²"}},"strokeDash":{"field":"k","type":"nominal","scale":{"domain":["s","d"],"range":[[1,0],[8,4]]},"legend":null}}},
      {"transform":[{"filter":"datum.k=='t'"}],"mark":{"type":"text","align":"left","baseline":"middle","fontWeight":"bold","fontSize":11,"font":"Liberation Sans"},"encoding":{"x":{"field":"x","type":"quantitative"},"y":{"field":"y","type":"quantitative"},"text":{"field":"t"}}}
    ]}
  ],
  "config": {
    "view": {"stroke": "black", "strokeWidth": 1.5},
    "axis": {"grid": false, "domainColor": "black", "domainWidth": 1.5, "tickColor": "black", "tickSize": 4, "tickWidth": 1.2, "labelFont": "Liberation Sans", "labelFontSize": 12, "labelFontWeight": "bold", "labelColor": "black", "labelPadding": 2, "titleFont": "Liberation Sans", "titleFontSize": 12, "titleFontWeight": "bold", "titleColor": "black", "titlePadding": 3},
    "axisY": {"titleFontSize": 15, "titlePadding": 2}
  }
}
